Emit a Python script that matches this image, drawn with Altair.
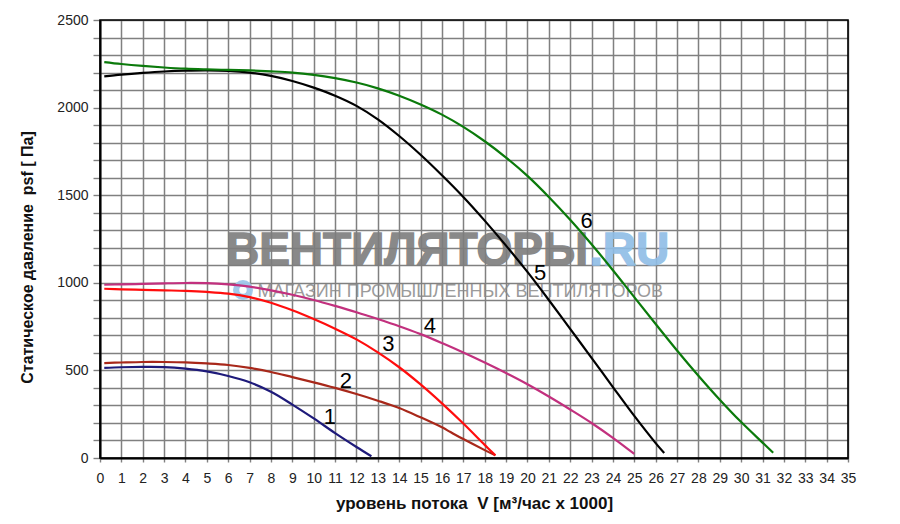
import altair as alt
import pandas as pd

# ---- data ----
x1 = [0.2, 1, 2, 3, 4, 5, 6, 7, 8, 9, 10, 11, 12, 12.7]
y1 = [514, 518, 520, 519, 510, 494, 468, 432, 378, 305, 226, 142, 63, 10]

x2 = [0.2, 1, 2, 3, 4, 5, 6, 7, 8, 9, 10, 11, 12, 13, 14, 15, 16, 16.4, 17, 18, 18.5]
y2 = [542, 545, 548, 548, 546, 540, 531, 514, 491, 462, 432, 400, 365, 327, 285, 232, 175, 148, 108, 45, 15]

x3 = [0.2, 1, 2, 3, 4, 5, 6, 7, 8, 9, 10, 11, 12, 13, 14, 15, 16, 17, 18, 18.5]
y3 = [966, 963, 960, 957, 954, 948, 938, 918, 886, 843, 793, 738, 677, 603, 518, 420, 312, 197, 75, 15]

x4 = [0.2, 1, 2, 3, 4, 5, 6, 7, 8, 9, 10, 11, 12, 13, 14, 15, 16, 17, 18, 19, 20, 21, 22, 23, 24, 25]
y4 = [989, 991, 994, 997, 999, 998, 991, 978, 957, 932, 902, 868, 832, 793, 752, 707, 656, 602, 545, 485,
      421, 351, 277, 200, 115, 23]

x5 = [0.2, 1, 2, 3, 4, 5, 6, 7, 8, 9, 10, 11, 12, 13, 14, 15, 16, 17, 18, 19, 20, 21, 22, 23, 24, 25, 26, 26.4]
y5 = [2178, 2188, 2198, 2206, 2211, 2213, 2210, 2200, 2181, 2152, 2114, 2068, 2010, 1933, 1838, 1731, 1614,
      1490, 1355, 1212, 1062, 902, 737, 572, 405, 240, 85, 28]

x6 = [0.2, 1, 2, 3, 4, 5, 6, 7, 8, 9, 10, 11, 12, 13, 14, 15, 16, 17, 18, 19, 20, 21, 22, 23, 24, 25, 26,
      27, 28, 29, 30, 31, 31.5]
y6 = [2260, 2249, 2238, 2229, 2222, 2218, 2215, 2212, 2207, 2200, 2187, 2168, 2143, 2110, 2068, 2018, 1960,
      1890, 1808, 1715, 1610, 1490, 1360, 1220, 1072, 918, 765, 614, 470, 333, 205, 88, 30]

series_names = ["1", "2", "3", "4", "5", "6"]
series_colors = ["#1e1a7a", "#a8281a", "#ff0d0d", "#c2307e", "#000000", "#0b7a0b"]

label_x = [10.76, 11.51, 13.49, 15.44, 20.59, 22.77]
label_y = [236, 442, 652, 756, 1056, 1350]

y_ticks = list(range(0, 2501, 100))
x_ticks = list(range(0, 36))

rows = []
for name, xs, ys in zip(series_names, [x1, x2, x3, x4, x5, x6], [y1, y2, y3, y4, y5, y6]):
    for xv, yv in zip(xs, ys):
        rows.append({"x": xv, "y": yv, "series": name})
df = pd.DataFrame(rows)
labels_df = pd.DataFrame({"x": label_x, "y": label_y, "t": series_names})

FONT = "Liberation Sans"
NB = "\u00a0"
GRID = "#808080"

xscale = alt.Scale(domain=[0, 35], nice=False, zero=False)
yscale = alt.Scale(domain=[0, 2500], nice=False)

xaxis = alt.Axis(values=x_ticks, format="d", title="уровень потока" + NB + NB + "V [м³/час x 1000]",
                 grid=True, gridColor=GRID, gridWidth=1.5,
                 domainColor="#000000", domainWidth=2,
                 tickColor=GRID, tickSize=4, tickWidth=1.4,
                 labelFont=FONT, labelFontSize=14, labelColor="#222222", labelPadding=9,
                 labelFlush=False, labelOverlap=False,
                 titleFont=FONT, titleFontSize=17, titleFontWeight="bold", titleColor="#111111",
                 titlePadding=10)
yaxis = alt.Axis(values=y_ticks, format="d",
                 labelExpr="datum.value % 500 === 0 ? datum.label : ''",
                 title="Статическое давление" + NB + NB + "psf [ Па]",
                 grid=True, gridColor=GRID, gridWidth=1.5,
                 domainColor="#000000", domainWidth=2,
                 tickColor=GRID, tickSize=7, tickWidth=1.4,
                 labelFont=FONT, labelFontSize=14, labelColor="#222222", labelPadding=5,
                 labelOverlap=False, labelFlush=False,
                 titleFont=FONT, titleFontSize=16, titleFontWeight="bold", titleColor="#111111",
                 titlePadding=21, titleY=237)

lines = alt.Chart(df).mark_line(strokeWidth=2.2, interpolate="catmull-rom").encode(
    x=alt.X("x:Q", scale=xscale, axis=xaxis),
    y=alt.Y("y:Q", scale=yscale, axis=yaxis),
    color=alt.Color("series:N", scale=alt.Scale(domain=series_names, range=series_colors), legend=None),
    detail="series:N",
)

wm_big = alt.Chart(pd.DataFrame({"t": ["ВЕНТИЛЯТОРЫ"]})).mark_text(
    font=FONT, fontSize=46, fontWeight="bold", color="#7d7d7d", opacity=0.9,
    stroke="#7d7d7d", strokeWidth=1.4,
    align="right", baseline="alphabetic").encode(text="t:N", x=alt.value(488), y=alt.value(245))
wm_ru = alt.Chart(pd.DataFrame({"t": [".RU"]})).mark_text(
    font=FONT, fontSize=46, fontWeight="bold", color="#8fbde6", opacity=0.9,
    stroke="#8fbde6", strokeWidth=1.4,
    align="left", baseline="alphabetic").encode(text="t:N", x=alt.value(490), y=alt.value(245))
wm_small = alt.Chart(pd.DataFrame({"t": ["МАГАЗИН ПРОМЫШЛЕННЫХ ВЕНТИЛЯТОРОВ"]})).mark_text(
    font=FONT, fontSize=18, color="#8a8a8a", opacity=0.85,
    align="right", baseline="alphabetic").encode(text="t:N", x=alt.value(563), y=alt.value(277))
logo = alt.Chart(pd.DataFrame({"t": ["o"]})).mark_point(
    shape="circle", filled=True, size=400, color="#9ec6ea", opacity=0.95).encode(
    x=alt.value(143), y=alt.value(270))
logo_in = alt.Chart(pd.DataFrame({"t": ["o"]})).mark_point(
    shape="circle", filled=True, size=55, color="#ffffff", opacity=1).encode(
    x=alt.value(143), y=alt.value(270))

num_labels = alt.Chart(labels_df).mark_text(
    font=FONT, fontSize=22, color="#000000", align="center", baseline="middle").encode(
    x=alt.X("x:Q", scale=xscale, axis=xaxis), y=alt.Y("y:Q", scale=yscale, axis=yaxis), text="t:N")

frame = alt.Chart(pd.DataFrame({"t": ["f"]})).mark_rect(
    fillOpacity=0, stroke="#000000", strokeWidth=1.6).encode(
    x=alt.value(0), x2=alt.value(748), y=alt.value(0), y2=alt.value(438))

chart = alt.layer(wm_big, wm_ru, wm_small, logo, logo_in, lines, num_labels, frame).properties(
    width=748, height=438,
    autosize=alt.AutoSizeParams(type="none"),
    padding={"left": 92, "top": 12, "right": 40, "bottom": 60},
).configure_view(stroke="#000000", strokeWidth=1.5).configure(background="#ffffff")

chart.save("out.html", embed_options={"renderer": "svg", "actions": False})
